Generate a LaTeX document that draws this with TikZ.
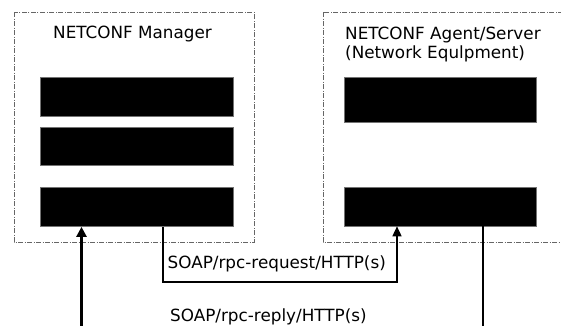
\documentclass[tikz,border=0pt]{standalone}
\usepackage{fontspec}
\setmainfont{DejaVu Sans}
\usetikzlibrary{arrows.meta}

\begin{document}
\begin{tikzpicture}[x=1pt,y=-1pt,
  frame/.style={draw=black!60, line width=0.9pt,
    dash pattern=on 5pt off 1.5pt on 1pt off 1.5pt},
  bar/.style={fill=black, draw=black!55, line width=0.6pt, inner sep=0pt,
    minimum width=193pt},
  label/.style={font=\fontsize{16.8}{19}\selectfont, inner sep=0pt},
  heavy/.style={line width=2.4pt, -{Triangle[length=10pt,width=10pt]}},
  light/.style={line width=1.5pt, -{Triangle[length=10pt,width=9pt]}},
]
\useasboundingbox (0,0) rectangle (561,325);
\clip (0,0) rectangle (561,325);

% the two dash-dotted enclosures
\draw[frame] (14,12) rectangle (254,242);
\draw[frame] (323,12) rectangle (600,242);

% titles (the base of a two-line node is its last line)
\node[label, anchor=base west] (mgrTitle) at (53,38) {NETCONF Manager};
\node[label, anchor=base west, align=left] (agtTitle) at (345,58)
  {NETCONF Agent/Server\\(Network Equlpment)};

% manager blocks
\node[bar, minimum height=39pt] (m1) at (136.5,96.5) {};
\node[bar, minimum height=38pt] (m2) at (136.5,146) {};
\node[bar, minimum height=39.5pt] (m3) at (136.5,206.8) {};

% agent blocks
\node[bar, minimum width=192pt, minimum height=45pt] (a1) at (440,99.5) {};
\node[bar, minimum width=192pt, minimum height=39pt] (a2) at (440,206.5) {};

% connector end points and corners
\coordinate (inBottom) at (81.5,330);
\coordinate (reqL) at (163,282);
\coordinate (reqR) at (397,282);
\coordinate (outBottom) at (483,330);

% request path: manager -> agent
\draw[light] (m3.south -| reqL) -- (reqL) -- (reqR) -- (a2.south -| reqR);
\node[label, anchor=base west] (reqLabel) at (167.5,268) {SOAP/rpc-request/HTTP(s)};

% reply path: agent -> manager
\draw[heavy] (inBottom) -- (m3.south -| inBottom);
\draw[line width=2.4pt] (a2.south -| outBottom) -- (outBottom);
\node[label, anchor=base west] (repLabel) at (170,321) {SOAP/rpc-reply/HTTP(s)};
\end{tikzpicture}
\end{document}
